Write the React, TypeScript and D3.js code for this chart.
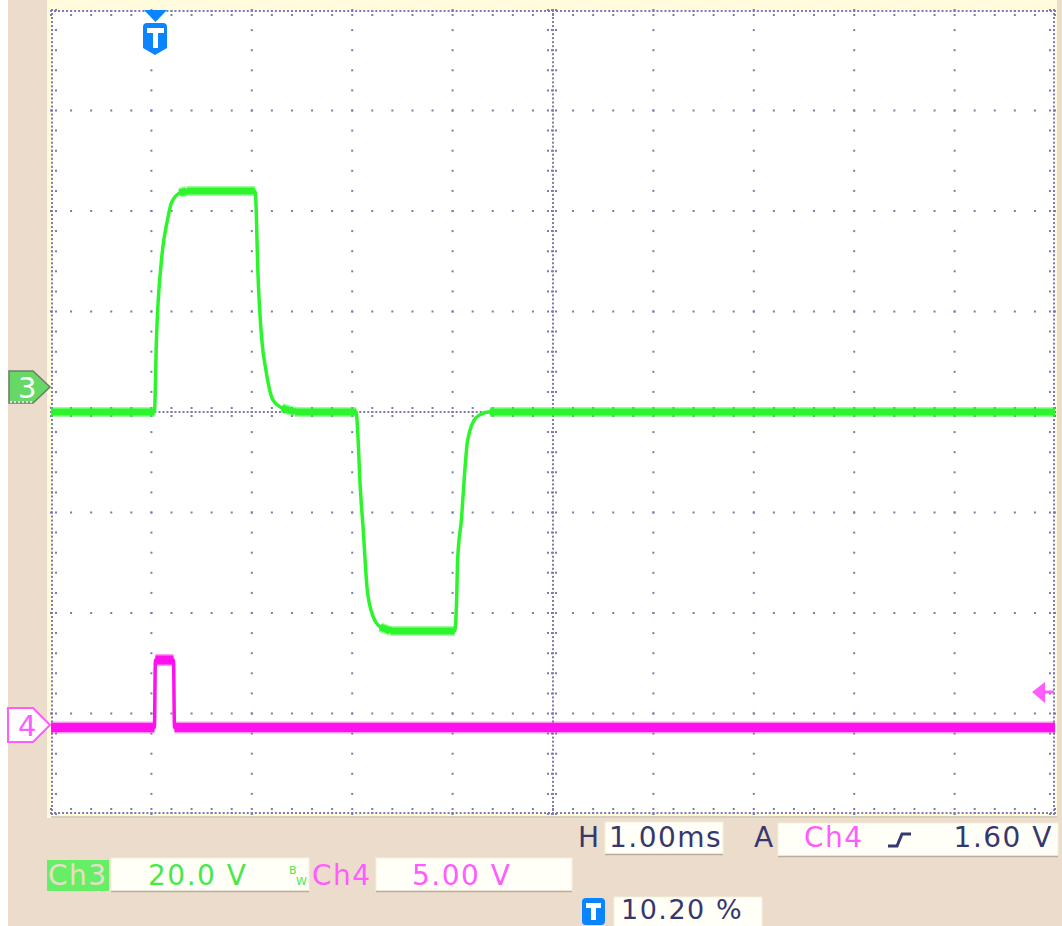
import React from "react";
import * as d3 from "d3";

// ---- data (time in ms relative to trigger, values in volts) ----
const ch3Time = [-1.02, 0.01, 0.03, 0.08, 0.14, 0.18, 0.26, 0.33, 1.01, 1.02, 1.04, 1.08, 1.12, 1.19, 1.28, 1.41, 2.02, 2.03, 2.06, 2.09, 2.13, 2.19, 2.26, 2.36, 3.0, 3.02, 3.03, 3.07, 3.1, 3.13, 3.22, 3.35, 8.98];
const ch3Volts = [0, 0, 14.3, 30.2, 38.2, 41.6, 43.6, 44.0, 44.0, 42.2, 28.3, 14.3, 8.4, 2.4, 0.8, 0, 0, -2.2, -14.9, -23.5, -35.4, -40.8, -42.8, -43.6, -43.6, -37.4, -29.5, -20.9, -12.1, -5.6, -1.0, 0, 0];
const ch4Time = [-1.02, 0.01, 0.02, 0.2, 0.21, 8.98];
const ch4Volts = [0, 0, 3.36, 3.36, 0, 0];

const ch3VoltsPerDiv = 20;
const ch4VoltsPerDiv = 5;
const ch3OffsetDiv = 0;
const ch4OffsetDiv = -3.14;
const timeDomain = [-1.02, 8.98];

const hLabel = "H";
const hValue = "1.00ms";
const aLabel = "A";
const trigSource = "Ch4";
const trigLevel = "1.60 V";
const ch3Label = "Ch3";
const ch3Scale = "20.0 V";
const ch4Label = "Ch4";
const ch4Scale = "5.00 V";
const trigPos = "10.20 %";

// ---- layout ----
const W = 1062, H = 926;
const X0 = 51, X1 = 1055, Y0 = 10, Y1 = 814;
const BG = "#ecdccb";
const FRAME = "#fffbdc";
const NAVY = "#37376f";
const GRID = "#7c7cae";
const GREEN = "#2cf52c";
const MAG = "#ff11ee";
const TXT_GREEN = "#49e849";
const TXT_MAG = "#ff5cff";
const FONT = "'DejaVu Sans', Verdana, sans-serif";

const xDiv = d3.scaleLinear().domain([0, 10]).range([X0, X1]);
const yDiv = d3.scaleLinear().domain([-4, 4]).range([Y1, Y0]);
const xT = d3.scaleLinear().domain(timeDomain).range([X0, X1]);

function Grid() {
  const dots: JSX.Element[] = [];
  const d = (x: number, y: number, k: string) => (
    <rect key={k} x={x - 1} y={y - 1} width={2} height={2} fill={GRID} />
  );
  const minorX = d3.range(0, 50.001, 1).map((i) => i * 0.2);
  const minorY = d3.range(0, 40.001, 1).map((i) => -4 + i * 0.2);
  const denseX = d3.range(0, 250.001, 1).map((i) => i * 0.04);
  const denseY = d3.range(0, 200.001, 1).map((i) => -4 + i * 0.04);
  for (let i = 1; i < 10; i++) {
    if (i === 5) continue;
    minorY.forEach((v, j) => dots.push(d(xDiv(i), yDiv(v), `v${i}-${j}`)));
  }
  for (let i = -3; i <= 3; i++) {
    if (i === 0) continue;
    minorX.forEach((v, j) => dots.push(d(xDiv(v), yDiv(i), `h${i}-${j}`)));
  }
  denseX.forEach((v, j) => dots.push(d(xDiv(v), yDiv(0), `cx${j}`)));
  denseY.forEach((v, j) => dots.push(d(xDiv(5), yDiv(v), `cy${j}`)));
  denseX.forEach((v, j) => {
    dots.push(d(xDiv(v), Y0 + 1, `et${j}`));
    dots.push(d(xDiv(v), Y1 - 1, `eb${j}`));
  });
  denseY.forEach((v, j) => {
    dots.push(d(X0 + 1, yDiv(v), `el${j}`));
    dots.push(d(X1 - 1, yDiv(v), `er${j}`));
  });
  const ticks: JSX.Element[] = [];
  const tk = (x1: number, y1: number, x2: number, y2: number, k: string) => (
    <line key={k} x1={x1} y1={y1} x2={x2} y2={y2} stroke={GRID} strokeWidth={2} strokeDasharray="2,2" />
  );
  minorX.forEach((v, j) => {
    const x = xDiv(v);
    ticks.push(tk(x, Y0, x, Y0 + 8, `tt${j}`));
    ticks.push(tk(x, Y1, x, Y1 - 8, `tb${j}`));
    ticks.push(tk(x, yDiv(0) - 5, x, yDiv(0) + 6, `tc${j}`));
  });
  minorY.forEach((v, j) => {
    const y = yDiv(v);
    ticks.push(tk(X0, y, X0 + 8, y, `tl${j}`));
    ticks.push(tk(X1, y, X1 - 8, y, `tr${j}`));
    ticks.push(tk(xDiv(5) - 6, y, xDiv(5) + 6, y, `tm${j}`));
  });
  return <g>{dots}{ticks}</g>;
}

function Trace({ t, v, vpd, off, color, band }: { t: number[]; v: number[]; vpd: number; off: number; color: string; band: number }) {
  const pts: [number, number][] = t.map((ti, i) => [xT(ti), yDiv(v[i] / vpd + off)]);
  const line = d3.line<[number, number]>().x((p) => p[0]).y((p) => p[1]);
  const smooth = d3.line<[number, number]>().x((p) => p[0]).y((p) => p[1]).curve(d3.curveMonotoneX);
  const flat: [number, number][][] = [];
  for (let i = 0; i < pts.length - 1; i++) {
    if (Math.abs(v[i + 1] - v[i]) / vpd < 0.05 && t[i + 1] - t[i] > 0.05) flat.push([pts[i], pts[i + 1]]);
  }
  return (
    <g>
      {flat.map((s, i) => (
        <path key={"b" + i} d={line(s) || ""} stroke={color} strokeOpacity={0.45} strokeWidth={band + 3} fill="none" />
      ))}
      {flat.map((s, i) => (
        <path key={"c" + i} d={line(s) || ""} stroke={color} strokeWidth={band} fill="none" />
      ))}
      <path d={smooth(pts) || ""} stroke={color} strokeWidth={3.5} fill="none" strokeLinejoin="round" />
    </g>
  );
}

function Box({ x, y, w, h }: { x: number; y: number; w: number; h: number }) {
  return (
    <g>
      <rect x={x} y={y} width={w} height={h} fill="#fffff8" stroke="#f6f0d8" strokeWidth={1} />
      <line x1={x} y1={y + h + 0.5} x2={x + w} y2={y + h + 0.5} stroke="#b8ad9f" strokeWidth={1.5} />
    </g>
  );
}

function TIcon({ x, y, w, h }: { x: number; y: number; w: number; h: number }) {
  return (
    <g>
      <rect x={x} y={y} width={w} height={h} rx={4} fill="#0a84ff" />
      <rect x={x + 4} y={y + 5} width={w - 8} height={5} fill="#fff" />
      <rect x={x + w / 2 - 2.5} y={y + 5} width={5} height={h - 10} fill="#fff" />
    </g>
  );
}

export default function App() {
  const txt = { fontFamily: FONT, fontSize: 28, letterSpacing: 1.5 } as const;
  return (
    <svg width={W} height={H} style={{ position: "absolute", left: 0, top: 0 }}>
      <rect x={0} y={0} width={W} height={H} fill="#ffffff" />
      <rect x={8} y={0} width={W - 8} height={H} fill={BG} />
      <rect x={47} y={0} width={1010} height={818} fill={FRAME} />
      <rect x={X0} y={Y0} width={X1 - X0} height={Y1 - Y0} fill="#ffffff" />
      <line x1={X0} y1={Y1 + 3} x2={X1 + 2} y2={Y1 + 3} stroke="#c9bfb2" strokeWidth={1.5} />
      <Grid />

      <Trace t={ch4Time} v={ch4Volts} vpd={ch4VoltsPerDiv} off={ch4OffsetDiv} color={MAG} band={9} />
      <Trace t={ch3Time} v={ch3Volts} vpd={ch3VoltsPerDiv} off={ch3OffsetDiv} color={GREEN} band={7} />

      {/* trigger position marker */}
      <polygon points={`144,10 167,10 155.5,22`} fill="#0a84ff" />
      <path d="M143,27 q0,-4 4,-4 h16 q4,0 4,4 v21 l-12,7 l-12,-7 z" fill="#0a84ff" />
      <rect x={147} y={28} width={17} height={5} fill="#fff" />
      <rect x={153} y={28} width={5} height={20} fill="#fff" />

      {/* channel ground markers */}
      <polygon points="9,371 33,371 50,387 33,403 9,403" fill="#66d866" stroke="#6d7d6d" strokeWidth={1.5} />
      <line x1={10} y1={402} x2={33} y2={402} stroke="#fff" strokeWidth={1.5} strokeDasharray="2,2" />
      <text x={18} y={398} fill="#ffffff" fontFamily={FONT} fontSize={29}>3</text>
      <polygon points="8,708 33,708 50,725 33,742 8,742" fill="#fff" stroke={TXT_MAG} strokeWidth={2} />
      <text x={18} y={736} fill={TXT_MAG} fontFamily={FONT} fontSize={29}>4</text>

      {/* trigger level arrow */}
      <polygon points="1032,692 1045,682 1045,703" fill={TXT_MAG} />
      <line x1={1044} y1={692} x2={1054} y2={692} stroke={TXT_MAG} strokeWidth={3} />

      {/* row 1 readouts */}
      <text x={578} y={847} fill={NAVY} {...txt}>{hLabel}</text>
      <Box x={605} y={822} w={118} h={32} />
      <text x={609} y={847} fill={NAVY} {...txt}>{hValue}</text>
      <text x={754} y={847} fill={NAVY} {...txt}>{aLabel}</text>
      <Box x={778} y={823} w={280} h={33} />
      <text x={804} y={847} fill={TXT_MAG} {...txt}>{trigSource}</text>
      <path d="M888,846 L897,846 L902,834 L911,834" stroke={NAVY} strokeWidth={3} fill="none" />
      <text x={1053} y={847} fill={NAVY} textAnchor="end" {...txt}>{trigLevel}</text>

      {/* row 2 */}
      <rect x={47} y={860} width={62} height={31} fill="#66ef66" />
      <text x={48} y={885} fill="#e9dccb" {...txt}>{ch3Label}</text>
      <Box x={111} y={858} w={198} h={33} />
      <text x={148} y={885} fill={TXT_GREEN} {...txt}>{ch3Scale}</text>
      <text x={289} y={874} fill={TXT_GREEN} fontFamily={FONT} fontSize={11}>B</text>
      <text x={296} y={885} fill={TXT_GREEN} fontFamily={FONT} fontSize={11}>W</text>
      <text x={312} y={885} fill={TXT_MAG} {...txt}>{ch4Label}</text>
      <Box x={376} y={858} w={196} h={33} />
      <text x={412} y={885} fill={TXT_MAG} {...txt}>{ch4Scale}</text>

      {/* row 3 */}
      <TIcon x={582} y={898} w={23} h={27} />
      <Box x={614} y={897} w={148} h={32} />
      <text x={621} y={919} fill={NAVY} fontFamily={FONT} fontSize={27} letterSpacing={1.5}>{trigPos}</text>
    </svg>
  );
}
